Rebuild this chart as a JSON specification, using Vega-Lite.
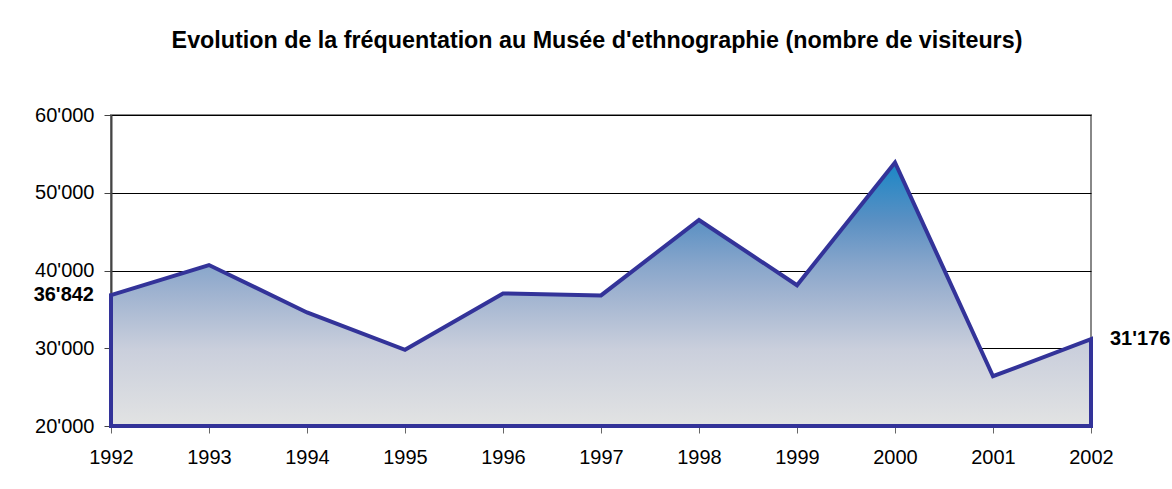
{
  "$schema": "https://vega.github.io/schema/vega-lite/v6.json",
  "autosize": {"type": "none"},
  "width": 980,
  "height": 311,
  "padding": {"left": 111, "top": 115, "right": 81, "bottom": 63},
  "background": "white",
  "title": {
    "text": "Evolution de la fréquentation au Musée d'ethnographie (nombre de visiteurs)",
    "font": "Liberation Sans",
    "fontSize": 23.3,
    "fontWeight": "bold",
    "color": "#000000",
    "anchor": "middle",
    "baseline": "alphabetic",
    "offset": 34,
    "dx": -4
  },
  "config": {
    "view": {"stroke": "#888888", "strokeWidth": 2},
    "font": "Liberation Sans",
    "locale": {
      "number": {"decimal": ".", "thousands": "'", "grouping": [3], "currency": ["", ""]}
    }
  },
  "data": {
    "values": [
      {"year": "1992", "visitors": 36842},
      {"year": "1993", "visitors": 40700},
      {"year": "1994", "visitors": 34600},
      {"year": "1995", "visitors": 29800},
      {"year": "1996", "visitors": 37050},
      {"year": "1997", "visitors": 36800},
      {"year": "1998", "visitors": 46500},
      {"year": "1999", "visitors": 38100},
      {"year": "2000", "visitors": 53900},
      {"year": "2001", "visitors": 26400},
      {"year": "2002", "visitors": 31176}
    ]
  },
  "encoding": {
    "x": {
      "field": "year",
      "type": "ordinal",
      "scale": {"type": "point", "padding": 0},
      "axis": {
        "title": null,
        "labelAngle": 0,
        "labelFont": "Liberation Sans",
        "labelFontSize": 20,
        "labelColor": "#000000",
        "labelPadding": 14,
        "tickSize": 7,
        "tickColor": "#666666",
        "domainColor": "#666666",
        "domainWidth": 2,
        "grid": false
      }
    },
    "y": {
      "field": "visitors",
      "type": "quantitative",
      "scale": {"domain": [20000, 60000], "nice": false, "zero": false},
      "axis": {
        "title": null,
        "values": [20000, 30000, 40000, 50000, 60000],
        "format": ",.0f",
        "labelFont": "Liberation Sans",
        "labelFontSize": 20,
        "labelColor": "#000000",
        "labelPadding": 10,
        "tickSize": 7,
        "tickColor": "#444444",
        "domainColor": "#444444",
        "domainWidth": 2,
        "grid": true,
        "gridColor": "#000000",
        "gridWidth": 1,
        "gridOpacity": 1
      }
    }
  },
  "layer": [
    {
      "mark": {
        "type": "area",
        "stroke": "#333399",
        "strokeWidth": 4,
        "strokeJoin": "miter",
        "fill": {
          "gradient": "linear",
          "x1": 0, "y1": 0, "x2": 0, "y2": 1,
          "stops": [
            {"offset": 0, "color": "#1A86C6"},
            {"offset": 0.22, "color": "#5A90C3"},
            {"offset": 0.39, "color": "#88A6CB"},
            {"offset": 0.5, "color": "#A0B3D0"},
            {"offset": 0.71, "color": "#CACFDC"},
            {"offset": 1, "color": "#E2E3E3"}
          ]
        }
      },
      "encoding": {"y2": {"datum": 20000}}
    },
    {
      "transform": [{"filter": "datum.year == '1992'"}],
      "mark": {"type": "text", "align": "right", "baseline": "middle", "dx": -17, "fontSize": 20, "fontWeight": "bold", "font": "Liberation Sans", "color": "#000000"},
      "encoding": {"text": {"field": "visitors", "type": "quantitative", "format": ",.0f"}}
    },
    {
      "transform": [{"filter": "datum.year == '2002'"}],
      "mark": {"type": "text", "align": "left", "baseline": "middle", "dx": 19, "fontSize": 20, "fontWeight": "bold", "font": "Liberation Sans", "color": "#000000"},
      "encoding": {"text": {"field": "visitors", "type": "quantitative", "format": ",.0f"}}
    }
  ]
}
